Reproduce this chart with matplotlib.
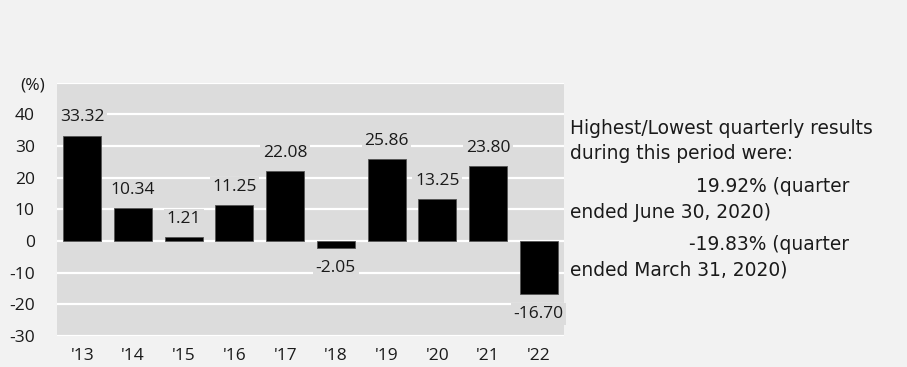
import matplotlib
matplotlib.use("Agg")
import matplotlib.pyplot as plt

years = ["'13", "'14", "'15", "'16", "'17", "'18", "'19", "'20", "'21", "'22"]
returns = [33.32, 10.34, 1.21, 11.25, 22.08, -2.05, 25.86, 13.25, 23.80, -16.70]
yticks = [-30, -20, -10, 0, 10, 20, 30, 40]
note_lines = ["Highest/Lowest quarterly results", "during this period were:",
              "19.92% (quarter", "ended June 30, 2020)",
              "-19.83% (quarter", "ended March 31, 2020)"]

plt.rcParams['font.family'] = ['Open Sans', 'DejaVu Sans']
BG = '#f2f2f2'
PLOT = '#dcdcdc'
TXT = '#1a1a1a'
W, H = 907, 367

fig = plt.figure(figsize=(9.07, 3.67), dpi=100, facecolor=BG)
ax = fig.add_axes([57 / W, 1 - 336 / H, (564 - 57) / W, (336 - 82.7) / H])
ax.set_facecolor(PLOT)
ax.set_xlim(-0.5, len(years) - 0.5)
ax.set_ylim(-30, 50)
for s in ax.spines.values():
    s.set_visible(False)
ax.set_yticks(yticks)
ax.set_yticklabels([str(t) for t in yticks])
ax.set_xticks(range(len(years)))
ax.set_xticklabels(years)
ax.tick_params(length=0, labelsize=12.5, colors=TXT)
ax.tick_params(axis='y', pad=16)
ax.tick_params(axis='x', pad=9)
ax.yaxis.grid(True, color='white', linewidth=1.6)
ax.set_axisbelow(True)
ax.axhline(50, color='white', linewidth=1.6, zorder=1)

bars = ax.bar(range(len(years)), returns, width=0.75, color='black',
              edgecolor='#555555', linewidth=0.6, zorder=3)
for i, v in enumerate(returns):
    off = 13 if v >= 0 else -14.5
    ax.annotate(f"{v:.2f}", (i, v), xytext=(0, off), textcoords='offset points',
                ha='center', va='center', fontsize=12.5, color=TXT, zorder=4,
                bbox=dict(boxstyle='square,pad=0.15', facecolor=PLOT, edgecolor='none'))

fig.text(20 / W, 1 - 86 / H, "(%)", ha='left', va='center', fontsize=12.5, color=TXT)

ys = [129, 153, 187, 212, 245, 270]
for k, (line, y) in enumerate(zip(note_lines, ys)):
    if k in (2, 4):
        fig.text(849 / W, 1 - y / H, line, ha='right', va='center', fontsize=13.4,
                 color=TXT, family='DejaVu Sans')
    else:
        fig.text(570 / W, 1 - y / H, line, ha='left', va='center', fontsize=13.4,
                 color=TXT, family='DejaVu Sans')

fig.savefig("out.png", dpi=100, facecolor=BG)
